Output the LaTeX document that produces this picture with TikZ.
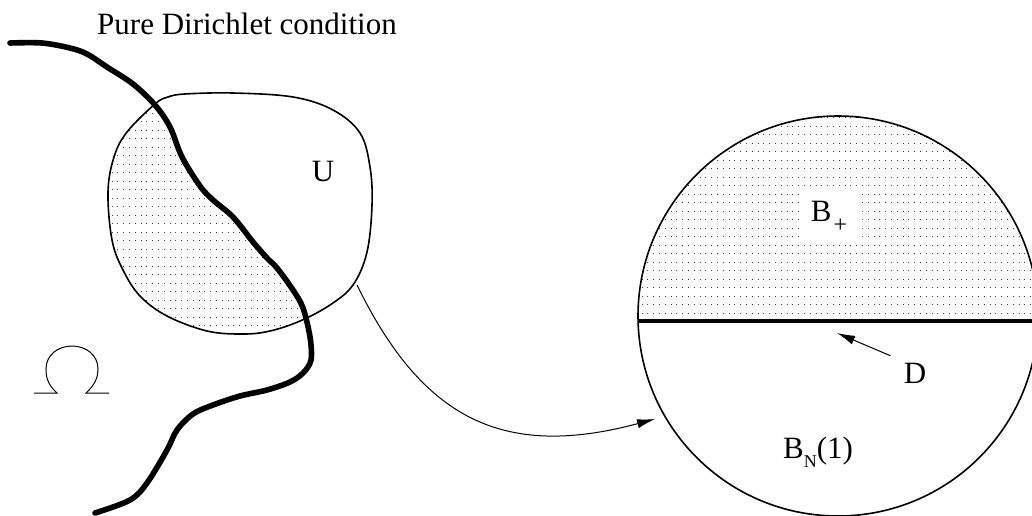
\documentclass[tikz,border=0pt]{standalone}
\usepackage{fontspec}
\setmainfont{Liberation Serif}
\usepackage{tikz}
\usetikzlibrary{arrows.meta,positioning}
\definecolor{dotgray}{HTML}{444444}
\newcommand{\dirichletcurve}{plot[smooth,tension=0.55] coordinates {(10,43) (42,43) (70,48) (87,54) (107,67) (133,84) (155,105) (170,127) (182,157) (200,186) (213,200) (233,217) (253,242) (267,258) (277,268) (293,290) (303,308) (310,337) (311,360) (303,373) (290,382) (267,390) (240,396) (213,405) (193,414) (177,430) (167,450) (147,483) (130,500) (95,513)}}
\newcommand{\patchcurve}{plot[smooth cycle,tension=0.6] coordinates {(155,104) (168,97) (185,94) (233,93) (293,97) (333,110) (360,133) (370,167) (372,205) (367,252) (353,285) (330,305) (300,321) (270,331) (243,334) (207,331) (167,316) (140,296) (123,270) (112,240) (108,192) (114,157) (127,132)}}

\begin{document}
\begin{tikzpicture}[x=0.5pt,y=-0.5pt,
  lbl/.style={font=\fontsize{15.5}{18}\selectfont,inner sep=1pt},
  dotrow/.style={dotgray,line width=0.5pt,dash pattern=on 0.5pt off 2.4pt},
  wall/.style={line width=2.8pt,line join=round,line cap=round},
  rim/.style={line width=0.8pt},
  arr/.style={-{Latex[length=9pt,width=4.6pt]},line width=0.5pt}]
  \useasboundingbox (0,0) rectangle (1032,515);
  \clip (0,0) rectangle (1032,515);

  % left picture: the patch U across the Dirichlet boundary
  \begin{scope}
    \clip \patchcurve;
    \clip \dirichletcurve -- (0,515) -- (0,0) -- cycle;
    \foreach \y in {96,104.5,...,336} \draw[dotrow] (100,\y) -- (380,\y);
  \end{scope}
  \draw[rim] \patchcurve;
  \draw[wall] \dirichletcurve;

  \node[lbl] (title) at (247,24) {Pure Dirichlet condition};
  \node[lbl] (ulabel) at (323,171) {U};

  % Omega
  \draw[line width=0.5pt] (34,393) -- (57,393) .. controls (47,384) and (46,376) .. (46,369)
    .. controls (46,355) and (58,346) .. (72,346) .. controls (86,346) and (98,355) .. (98,369)
    .. controls (98,376) and (96,384) .. (86,393) -- (109,393);

  % right picture: the unit ball
  \coordinate (c) at (838,316);
  \begin{scope}
    \clip (c) circle[radius=200];
    \foreach \y in {313,304.5,...,110} \draw[dotrow] (630,\y) -- (1040,\y);
  \end{scope}
  \draw[rim] (c) circle[radius=200];
  \draw[line width=2.2pt] (639,321) -- (1040,321);

  \node[lbl,fill=white,inner xsep=6pt,inner ysep=4pt] (bplus) at (829,217)
    {B\kern1pt\raisebox{-5.5pt}{\fontsize{12}{12}\selectfont +}};
  \node[lbl] (dlabel) at (915,373) {D};
  \node[lbl] (bball) at (818,452) {B\raisebox{-4.5pt}{\fontsize{9}{9}\selectfont N}(1)};

  \coordinate (dpt) at (837,333);
  \coordinate (ustart) at (357,285);
  \coordinate (tip) at (655,419);
  \draw[arr,shorten <=6pt] (dlabel.north west) -- (dpt);
  \draw[arr] (ustart) .. controls (422,418) and (502,460) .. (tip);
\end{tikzpicture}
\end{document}
